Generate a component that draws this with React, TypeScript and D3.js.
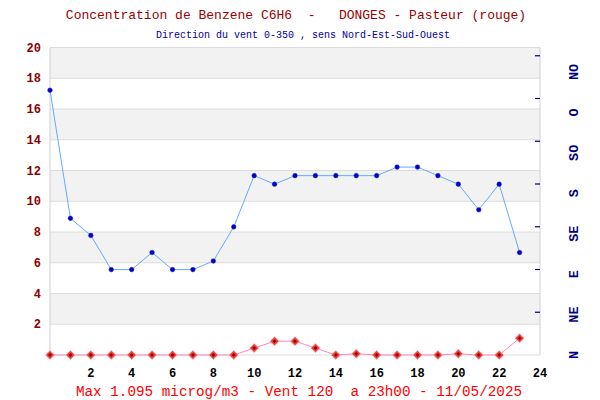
import React from "react";
import * as d3 from "d3";

const hours = [0,1,2,3,4,5,6,7,8,9,10,11,12,13,14,15,16,17,18,19,20,21,22,23];
const benzene = [0,0,0,0,0,0,0,0,0,0,0.45,0.9,0.9,0.45,0,0.08,0,0,0,0,0.08,0,0,1.095];
const windDir = [310,160,140,100,100,120,100,100,110,150,210,200,210,210,210,210,210,220,220,210,200,170,200,120];
const yTicks = [2,4,6,8,10,12,14,16,18,20];
const xTicks = [2,4,6,8,10,12,14,16,18,20,22,24];
const dirLabels = ["N","NE","E","SE","S","SO","O","NO"];
const dirTickIdx = [1,2,3,4,5,6,7];
const bands = [[18,20],[14,16],[10,12],[6,8],[2,4]];

const title = "Concentration de Benzene C6H6  -   DONGES - Pasteur (rouge)";
const subtitle = "Direction du vent 0-350 , sens Nord-Est-Sud-Ouest";
const footer = "Max 1.095 microg/m3 - Vent 120  a 23h00 - 11/05/2025";

export default function App() {
  const W = 600, H = 400;
  const L = 50, R = 540, T = 47.5, B = 355;
  const x = d3.scaleLinear().domain([0, 24]).range([L, R]);
  const y = d3.scaleLinear().domain([0, 20]).range([B, T]);
  const yDir = d3.scaleLinear().domain([0, 360]).range([B, T]);
  const tickPos = d3.scaleLinear().domain([0, 8]).range([355, 13]);
  const labelPos = d3.scaleLinear().domain([0, 8]).range([355, 31.6]);

  const blueLine = d3.line<number>().x((_, i) => x(hours[i])).y((d) => yDir(d))(windDir) || "";
  const redLine = d3.line<number>().x((_, i) => x(hours[i])).y((d) => y(d))(benzene) || "";
  const dia = (r: number) => `M0,${-r}L${r},0L0,${r}L${-r},0Z`;

  const mono = "'Liberation Mono', 'DejaVu Sans Mono', monospace";

  return (
    <svg width={W} height={H} style={{ position: "absolute", left: 0, top: 0, background: "#fff" }}>
      <rect x={0} y={0} width={W} height={H} fill="#fff" />
      {bands.map(([a, b], i) => (
        <rect key={i} x={L} y={y(b)} width={R - L} height={y(a) - y(b)} fill="#f2f2f2" />
      ))}
      {[0, ...yTicks].map((t) => (
        <line key={t} x1={L} x2={R} y1={y(t)} y2={y(t)} stroke="#dcdcdc" strokeWidth={1} />
      ))}
      <line x1={L} x2={L} y1={T} y2={B} stroke="#d0d0d0" />
      <line x1={R} x2={R} y1={T} y2={B} stroke="#d0d0d0" />

      {yTicks.map((t) => (
        <text key={t} x={41} y={y(t) + 4} textAnchor="end" fontFamily={mono} fontWeight="bold" fontSize={12} fill="#8b0000">
          {t}
        </text>
      ))}
      {xTicks.map((t) => (
        <text key={t} x={x(t)} y={377} textAnchor="middle" fontFamily={mono} fontWeight="bold" fontSize={12} fill="#000">
          {t}
        </text>
      ))}
      {dirTickIdx.map((i) => (
        <line key={i} x1={535} x2={540} y1={tickPos(i)} y2={tickPos(i)} stroke="#000080" strokeWidth={1.2} />
      ))}
      {dirLabels.map((lab, i) => (
        <text key={lab} transform={`translate(578,${labelPos(i)}) rotate(-90)`} textAnchor="middle" fontFamily={mono} fontWeight="bold" fontSize={13.5} fill="#000080">
          {lab}
        </text>
      ))}

      <path d={blueLine} fill="none" stroke="#66aaff" strokeWidth={1} />
      {windDir.map((d, i) => (
        <circle key={i} cx={x(hours[i])} cy={yDir(d)} r={2.3} fill="#0000cc" stroke="#2222aa" strokeWidth={0.5} />
      ))}

      <path d={redLine} fill="none" stroke="#ff88bb" strokeWidth={1} />
      {benzene.map((d, i) => (
        <g key={i} transform={`translate(${x(hours[i])},${y(d)})`}>
          <path d={dia(4.5)} fill="#f04040" stroke="#ffaaaa" strokeWidth={0.6} />
          <path d={dia(2)} fill="#990000" />
        </g>
      ))}

      <text x={296} y={19} textAnchor="middle" fontFamily={mono} fontSize={13} fill="#990000">
        {title.replace(/ /g, "\u00a0")}
      </text>
      <text x={303} y={38} textAnchor="middle" fontFamily={mono} fontSize={10} fill="#000099">
        {subtitle}
      </text>
      <text x={299} y={396} textAnchor="middle" fontFamily={mono} fontSize={14.3} fill="#ff0000">
        {footer.replace(/ /g, "\u00a0")}
      </text>
    </svg>
  );
}
